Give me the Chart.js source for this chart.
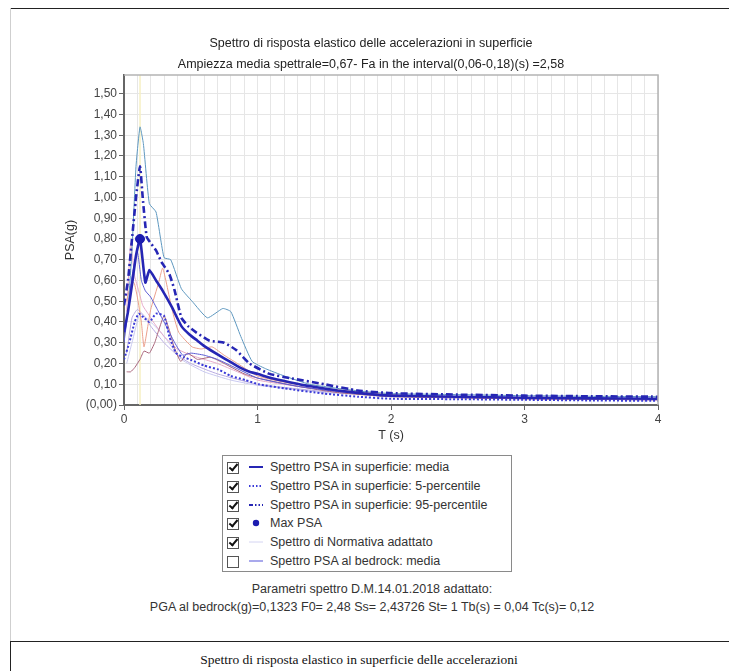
<!DOCTYPE html>
<html>
<head>
<meta charset="utf-8">
<script src="https://cdn.jsdelivr.net/npm/chart.js@4.4.1/dist/chart.umd.min.js"></script>
<style>
  html, body { margin: 0; background: #fff; overflow: hidden; }
  body { font-family: "Liberation Sans", Arial, sans-serif; color: #333; }
  #page { position: relative; width: 729px; height: 671px; overflow: hidden; }
  .frameTop { position: absolute; left: 10px; top: 8px; width: 719px; height: 0; border-top: 1px solid #222; }
  .frameLeft { position: absolute; left: 10px; top: 8px; width: 0; height: 633px; border-left: 1px solid #cfcfcf; }
  .boxBottom { position: absolute; left: 10px; top: 641px; width: 719px; height: 40px; border-top: 1px solid #222; border-left: 1px solid #222; }
  .boxBottom div { position: absolute; left: -10px; top: 10px; width: 716px; font-family: "Liberation Serif", "Times New Roman", serif; font-size: 13.5px; color: #111; text-align: center; }
  #chartWrap { position: absolute; left: 10px; top: 9px; }
  #legend { position: absolute; left: 222px; top: 455px; width: 288px; height: 113px; border: 1px solid #8a8a8a; padding-top: 2px; }
  .row { height: 18.8px; line-height: 18.8px; font-size: 12.5px; white-space: nowrap; position: relative; }
  .cb { position: absolute; left: 4px; top: 4px; width: 10px; height: 10px; border: 1px solid #555; background: #fff; }
  .cb.on::after { content: ''; position: absolute; left: 3px; top: -1px; width: 3px; height: 7px; border: solid #111; border-width: 0 2px 2px 0; transform: rotate(40deg); }
  .row svg { position: absolute; left: 26px; top: 4px; }
  .row span.t { position: absolute; left: 47px; }
  .note { position: absolute; left: 0; width: 744px; text-align: center; font-size: 12.5px; color: #333; }
</style>
</head>
<body>
<div id="page">
  <div class="frameTop"></div>
  <div class="frameLeft"></div>
  <div id="chartWrap"><canvas id="psaChart" width="719" height="440"></canvas></div>
  <div id="legend"></div>
  <div class="note" style="top:582px">Parametri spettro D.M.14.01.2018 adattato:</div>
  <div class="note" style="top:600px">PGA al bedrock(g)=0,1323 F0= 2,48 Ss= 2,43726 St= 1 Tb(s) = 0,04 Tc(s)= 0,12</div>
  <div class="boxBottom"><div>Spettro di risposta elastico in superficie delle accelerazioni</div></div>
</div>
<script>
// periods (s) and spectral accelerations (g)
const mediaT   = [0, 0.03, 0.06, 0.09, 0.12, 0.16, 0.19, 0.24, 0.29, 0.36, 0.43, 0.49, 0.55, 0.61, 0.71, 0.79, 0.87, 0.94, 1.0, 1.1, 1.24, 1.4, 1.6, 1.8, 2.0, 2.5, 3.0, 3.5, 4.0];
const mediaPSA = [0.35, 0.45, 0.58, 0.72, 0.80, 0.59, 0.65, 0.60, 0.55, 0.47, 0.38, 0.34, 0.31, 0.28, 0.24, 0.21, 0.18, 0.16, 0.15, 0.13, 0.11, 0.09, 0.07, 0.055, 0.045, 0.04, 0.035, 0.032, 0.03];

const p5T   = [0, 0.04, 0.08, 0.11, 0.15, 0.19, 0.24, 0.3, 0.34, 0.39, 0.45, 0.51, 0.6, 0.71, 0.8, 0.91, 1.01, 1.2, 1.5, 1.75, 2.0, 2.5, 3.0, 3.5, 4.0];
const p5PSA = [0.22, 0.30, 0.40, 0.44, 0.42, 0.40, 0.44, 0.43, 0.33, 0.25, 0.23, 0.215, 0.19, 0.17, 0.14, 0.12, 0.10, 0.08, 0.055, 0.04, 0.03, 0.028, 0.025, 0.022, 0.02];

const p95T   = [0, 0.03, 0.06, 0.09, 0.12, 0.14, 0.17, 0.2, 0.24, 0.28, 0.34, 0.38, 0.43, 0.48, 0.54, 0.64, 0.75, 0.84, 0.94, 1.09, 1.24, 1.5, 1.75, 2.0, 2.5, 3.0, 3.5, 4.0];
const p95PSA = [0.48, 0.60, 0.80, 1.00, 1.15, 1.00, 0.81, 0.78, 0.745, 0.69, 0.63, 0.55, 0.42, 0.38, 0.35, 0.31, 0.30, 0.265, 0.20, 0.15, 0.13, 0.10, 0.07, 0.057, 0.05, 0.045, 0.042, 0.04];

const maxT = [0.12];
const maxPSA = [0.80];

const normT   = [0.02, 0.06, 0.12, 0.2, 0.29, 0.43, 0.6, 0.8, 1.0, 1.5, 2.0, 3.0, 4.0];
const normPSA = [0.20, 0.30, 0.44, 0.40, 0.34, 0.22, 0.16, 0.12, 0.095, 0.06, 0.045, 0.03, 0.025];

// single-record spectra (thin lines)
const envT   = [0.03, 0.06, 0.09, 0.12, 0.145, 0.19, 0.24, 0.30, 0.35, 0.43, 0.51, 0.625, 0.74, 0.80, 0.875, 0.96, 1.06, 1.2, 1.39, 1.6, 1.8, 2.0, 2.5, 3.0, 3.5, 4.0];
const envPSA = [0.45, 0.75, 1.15, 1.34, 1.26, 0.97, 0.93, 0.71, 0.70, 0.56, 0.50, 0.42, 0.465, 0.45, 0.33, 0.21, 0.175, 0.14, 0.10, 0.08, 0.065, 0.055, 0.05, 0.045, 0.042, 0.04];
const recAT   = [0.02, 0.05, 0.075, 0.1, 0.13, 0.15, 0.2, 0.26, 0.29, 0.36, 0.41, 0.51, 0.58, 0.66, 0.75, 0.85, 1.0, 1.2, 1.5, 2, 2.5, 3, 3.5, 4];
const recAPSA = [0.50, 0.58, 0.59, 0.52, 0.40, 0.28, 0.46, 0.59, 0.66, 0.46, 0.35, 0.28, 0.27, 0.28, 0.24, 0.20, 0.14, 0.11, 0.08, 0.05, 0.04, 0.035, 0.03, 0.03];
const recBT   = [0.02, 0.05, 0.08, 0.12, 0.15, 0.19, 0.23, 0.26, 0.30, 0.34, 0.375, 0.425, 0.475, 0.55, 0.65, 0.75, 0.9, 1.0, 1.3, 1.6, 2, 3, 4];
const recBPSA = [0.16, 0.16, 0.18, 0.22, 0.26, 0.25, 0.30, 0.36, 0.43, 0.36, 0.28, 0.21, 0.25, 0.22, 0.23, 0.20, 0.15, 0.13, 0.09, 0.06, 0.04, 0.03, 0.025];
const recCT   = [0.02, 0.05, 0.08, 0.11, 0.14, 0.18, 0.22, 0.3, 0.4, 0.5, 0.6, 0.7, 0.85, 1.0, 1.3, 1.6, 2, 3, 4];
const recCPSA = [0.45, 0.78, 0.62, 0.55, 0.48, 0.44, 0.40, 0.33, 0.27, 0.24, 0.22, 0.20, 0.16, 0.12, 0.09, 0.065, 0.045, 0.03, 0.025];
const recDT   = [0, 0.03, 0.06, 0.1, 0.13, 0.16, 0.2, 0.25, 0.3, 0.38, 0.44, 0.5, 0.6, 0.7, 0.8, 1.0, 1.3, 1.6, 2, 3, 4];
const recDPSA = [0.30, 0.45, 0.62, 0.74, 0.60, 0.55, 0.52, 0.46, 0.40, 0.30, 0.24, 0.25, 0.24, 0.22, 0.19, 0.13, 0.09, 0.065, 0.045, 0.035, 0.03];
const recET   = [0.02, 0.06, 0.1, 0.15, 0.2, 0.3, 0.4, 0.5, 0.7, 1.0, 1.5, 2, 3, 4];
const recEPSA = [0.25, 0.42, 0.46, 0.43, 0.38, 0.30, 0.24, 0.20, 0.15, 0.10, 0.065, 0.045, 0.03, 0.025];

const tcT = [0.12, 0.12];
const tcPSA = [0, 1.59];

const legendItems = [
    { label: 'Spettro PSA in superficie: media', on: true, color: '#2626b4', dash: '', w: 2 },
    { label: 'Spettro PSA in superficie: 5-percentile', on: true, color: '#3a3ad8', dash: '1.5,2', w: 2 },
    { label: 'Spettro PSA in superficie: 95-percentile', on: true, color: '#2626b4', dash: '4,2,1.5,2,1.5,2', w: 2 },
    { label: 'Max PSA', on: true, color: '#1c1cb0', dot: true },
    { label: 'Spettro di Normativa adattato', on: true, color: '#d4d4f2', dash: '', w: 1 },
    { label: 'Spettro PSA al bedrock: media', on: false, color: '#8c8ce6', dash: '', w: 1.5 }
];

const pts = (xs, ys) => xs.map((x, i) => ({ x: x, y: ys[i] }));
const isWhole = v => Math.abs(v - Math.round(v)) < 1e-6;
const FONT = 'Liberation Sans';

function thin(data, color) {
    return { data: data, borderColor: color, borderWidth: 1, pointRadius: 0, tension: 0.15 };
}

const frame = {
    id: 'frame',
    afterDraw(chart) {
        const { ctx, chartArea: a } = chart;
        ctx.save();
        ctx.strokeStyle = '#b4b4b4';
        ctx.lineWidth = 1.5;
        ctx.beginPath();
        ctx.moveTo(a.left, a.top);
        ctx.lineTo(a.right, a.top);
        ctx.lineTo(a.right, a.bottom);
        ctx.stroke();
        ctx.restore();
    }
};

new Chart(document.getElementById('psaChart'), {
    type: 'line',
    data: {
        datasets: [
            { data: pts(maxT, maxPSA), showLine: false, pointRadius: 4.5, pointBackgroundColor: '#1c1cb0', pointBorderColor: '#1c1cb0' },
            { data: pts(mediaT, mediaPSA), borderColor: '#2626b4', borderWidth: 2.6, pointRadius: 0, tension: 0.15 },
            { data: pts(p95T, p95PSA), borderColor: '#2626b4', borderWidth: 2.6, borderDash: [7, 3, 2, 3], pointRadius: 0, tension: 0.15 },
            { data: pts(p5T, p5PSA), borderColor: '#3a3ad8', borderWidth: 2, borderDash: [2, 2], pointRadius: 0, tension: 0.15 },
            thin(pts(envT, envPSA), '#5d97bf'),
            thin(pts(recDT, recDPSA), '#5c5cd4'),
            thin(pts(recAT, recAPSA), '#eba08c'),
            thin(pts(recBT, recBPSA), '#a8647a'),
            thin(pts(recCT, recCPSA), '#e6aac8'),
            thin(pts(recET, recEPSA), '#b8aae2'),
            thin(pts(normT, normPSA), '#c9c9f0'),
            { data: pts(tcT, tcPSA), borderColor: '#f6f0c4', borderWidth: 1.5, pointRadius: 0 }
        ]
    },
    options: {
        responsive: false,
        animation: false,
        // left padding keeps the title centred on the page as in the source
        layout: { padding: { top: 14, left: 74, right: 71, bottom: 0 } },
        plugins: {
            legend: { display: false },
            tooltip: { enabled: false },
            title: {
                display: true,
                text: ['Spettro di risposta elastico delle accelerazioni in superficie',
                       'Ampiezza media spettrale=0,67- Fa in the interval(0,06-0,18)(s) =2,58'],
                color: '#222',
                font: { family: FONT, size: 12.5, weight: 'normal', lineHeight: 1.68 },
                padding: { top: 10, bottom: 0 }
            }
        },
        scales: {
            x: {
                type: 'linear', min: 0, max: 4,
                afterFit: s => { s.height = 44; },
                border: { color: '#666', width: 2 },
                grid: {
                    color: '#e6e6e6', lineWidth: 1, tickLength: 5,
                    tickColor: c => isWhole(c.tick.value) ? '#666' : 'rgba(0,0,0,0)'
                },
                ticks: {
                    stepSize: 0.1, autoSkip: false, maxRotation: 0, padding: 2, color: '#444',
                    font: { family: FONT, size: 12 },
                    callback: v => isWhole(v) ? String(Math.round(v)) : ''
                },
                title: { display: true, text: 'T (s)', color: '#333', font: { family: FONT, size: 12.5 }, padding: { top: 0, bottom: 6 } }
            },
            y: {
                min: 0, max: 1.59,
                afterFit: s => { s.width = 40; },
                border: { color: '#666', width: 2 },
                grid: { color: '#e6e6e6', lineWidth: 1, tickLength: 5, tickColor: '#666' },
                ticks: {
                    stepSize: 0.1, includeBounds: false, padding: 2, color: '#444',
                    font: { family: FONT, size: 12 },
                    callback: v => v === 0 ? '(0,00)' : v.toFixed(2).replace('.', ',')
                },
                title: { display: true, text: 'PSA(g)', color: '#333', font: { family: FONT, size: 12.5 }, padding: { top: -21, bottom: 0 } }
            }
        }
    },
    plugins: [frame]
});

// legend with check boxes, as in the source program
const legend = document.getElementById('legend');
legendItems.forEach(it => {
    const row = document.createElement('div');
    row.className = 'row';
    let sample;
    if (it.dot) {
        sample = `<svg width="14" height="10"><circle cx="7" cy="5" r="3.2" fill="${it.color}"/></svg>`;
    } else {
        sample = `<svg width="14" height="10"><line x1="0" y1="5" x2="14" y2="5" stroke="${it.color}" stroke-width="${it.w}" stroke-dasharray="${it.dash}"/></svg>`;
    }
    row.innerHTML = `<span class="cb${it.on ? ' on' : ''}"></span>${sample}<span class="t">${it.label}</span>`;
    legend.appendChild(row);
});
</script>
</body>
</html>
